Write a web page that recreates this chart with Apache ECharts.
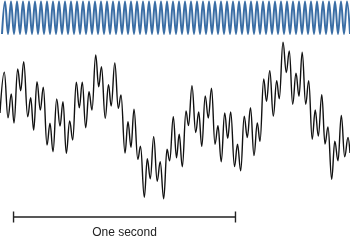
<!DOCTYPE html>
<html><head><meta charset="utf-8">
<script src="https://cdn.jsdelivr.net/npm/echarts@6/dist/echarts.min.js"></script>
<style>html,body{margin:0;padding:0;background:#fff}#c{width:350px;height:241px}</style>
</head><body><div id="c"></div>
<script>
// Pure tone: successive extremes (trough, peak, ...), one per half-cycle
const toneValues = [
-16, 16.5, -16, 16.5, -16, 16.5, -16, 16.5, -16, 16.5, -16, 16.5, -16, 16.5, -16, 16.5, -16, 16.5, -16, 16.5,
-16, 16.5, -16, 16.5, -16, 16.5, -16, 16.5, -16, 16.5, -16, 16.5, -16, 16.5, -16, 16.5, -16, 16.5, -16, 16.5,
-16, 16.5, -16, 16.5, -16, 16.5, -16, 16.5, -16, 16.5, -16, 16.5, -16, 16.5, -16, 16.5, -16, 16.5, -16, 16.5,
-16, 16.5, -16, 16.5, -16, 16.5, -16, 16.5, -16, 16.5, -16, 16.5, -16, 16.5, -16, 16.5, -16, 16.5, -16, 16.5,
-16, 16.5, -16, 16.5, -16, 16.5, -16, 16.5, -16, 16.5, -16, 16.5, -16, 16.5, -16, 16.5, -16, 16.5, -16, 16.5,
-16, 16.5, -16, 16.5, -16, 16.5, -16, 16.5, -16, 16.5, -16, 16.5, -16, 16.5, -16, 16.5,
-16
];

// Complex signal: times (ms) of successive extremes and their amplitudes
const signalTimesMs = [
-61, -41.6, -25.0, -10.1, 2.1, 18.7, 32.3, 45.8, 63.8, 77.3,
90.8, 105.7, 120.6, 134.1, 150.8, 164.3, 177.8, 194.5, 209.3, 222.9,
237.7, 253.0, 266.6, 282.8, 296.3, 309.8, 325.1, 340.0, 353.5, 370.2,
383.7, 396.3, 413.0, 427.9, 440.0, 456.3, 472.0, 484.2, 502.2, 515.7,
529.2, 542.8, 559.9, 572.1, 589.2, 602.7, 616.2, 631.5, 647.3, 660.8,
676.6, 691.5, 703.6, 719.8, 734.3, 746.4, 760.4, 777.1, 788.3, 804.1,
820.8, 834.3, 848.2, 863.6, 877.5, 892.0, 907.7, 921.2, 935.7, 951.4,
965.0, 978.5, 995.6, 1009.1, 1023.5, 1039.3, 1053.3, 1067.7, 1083.4, 1098.3,
1110.5, 1127.2, 1139.8, 1154.6, 1170.4, 1185.7, 1197.4, 1214.1, 1229.0, 1242.5,
1257.8, 1272.7, 1286.2, 1300.6, 1316.4, 1329.9, 1345.7, 1359.2, 1373.2, 1388.9,
1403.4, 1416.9, 1433.5, 1447.5, 1461.9, 1476.8, 1492.1, 1507.0, 1516
];
const signalValues = [
7, 47.7, 2.3, 26, -3, 51, 29.3, 58.3, 3.3, 22.3,
-10, 38.3, 10, 32.7, -25, -3.3, -31.7, 21, -6, 18.3,
-33.3, -1, -20, 37.7, 12.3, 37.7, -7.7, 28.3, 10, 65,
33.3, 53.3, 1.7, 35.3, 14, 57, 11.7, 25, -33, -1.7,
-27.3, 10.8, -39.3, -26.3, -77.3, -38.8, -58.8, -16.7, -61.2, -41.7,
-78.8, -29.3, -40.8, 3.3, -37.8, -14.3, -46.7, 9, -5.5, 34.3,
-12.5, 8, -26.3, 24, 2, 31.7, -24.2, -5.8, -41.7, 7,
-18.3, 8, -46.5, -24.2, -50.8, 3.7, -17.5, 12.3, -35.5, -3,
-21.3, 41, 18.8, 49.3, 4, 39.3, 21.2, 77.7, 47.5, 69,
15.8, 46.7, 23.7, 67.8, 15.8, 39.2, -19.3, 10, -16, 25.3,
-24, -7, -59.3, -21.3, -40.8, 4.5, -36.7, -17.5, -33
];

const scaleBarMs = [0, 1000];
const scaleBarLevel = -97;
const scaleBarTick = 5.5;
const scaleBarLabel = 'One second';

const signalData = signalTimesMs.map((t, i) => [t, signalValues[i]]);
const barData = [
  [scaleBarMs[0], scaleBarLevel + scaleBarTick], [scaleBarMs[0], scaleBarLevel - scaleBarTick],
  [scaleBarMs[0], scaleBarLevel], [scaleBarMs[1], scaleBarLevel],
  [scaleBarMs[1], scaleBarLevel + scaleBarTick], [scaleBarMs[1], scaleBarLevel - scaleBarTick]
];

const chart = echarts.init(document.getElementById('c'), null, {renderer: 'canvas'});
chart.setOption({
  animation: false,
  backgroundColor: '#fff',
  grid: [
    {left: 2, right: 0, top: 0, height: 36},
    {left: 0, right: 0, top: 36, bottom: 0}
  ],
  xAxis: [
    {gridIndex: 0, type: 'category', boundaryGap: false, show: false},
    {gridIndex: 1, type: 'value', min: -61, max: 1516, show: false}
  ],
  yAxis: [
    {gridIndex: 0, type: 'value', min: -18, max: 18, show: false},
    {gridIndex: 1, type: 'value', min: -121, max: 84, show: false}
  ],
  series: [
    {
      name: 'tone', type: 'line', xAxisIndex: 0, yAxisIndex: 0,
      data: toneValues, smooth: 0.38, smoothMonotone: 'x',
      symbol: 'none', lineStyle: {color: '#3b6ea5', width: 2}
    },
    {
      name: 'signal', type: 'line', xAxisIndex: 1, yAxisIndex: 1,
      data: signalData, smooth: 0.4, smoothMonotone: 'x',
      symbol: 'none', lineStyle: {color: '#111', width: 1.4}
    },
    {
      name: 'scale', type: 'line', xAxisIndex: 1, yAxisIndex: 1,
      data: barData, smooth: false, symbol: 'none',
      lineStyle: {color: '#222', width: 1.4}
    }
  ]
});
const mid = chart.convertToPixel({xAxisIndex: 1, yAxisIndex: 1},
  [(scaleBarMs[0] + scaleBarMs[1]) / 2, scaleBarLevel]);
chart.setOption({
  graphic: [{
    type: 'text', x: mid[0], y: mid[1] + 16,
    style: {text: scaleBarLabel, font: '12px "Liberation Sans", Arial, sans-serif',
            fill: '#222', textAlign: 'center', textVerticalAlign: 'middle'}
  }]
});
</script></body></html>
